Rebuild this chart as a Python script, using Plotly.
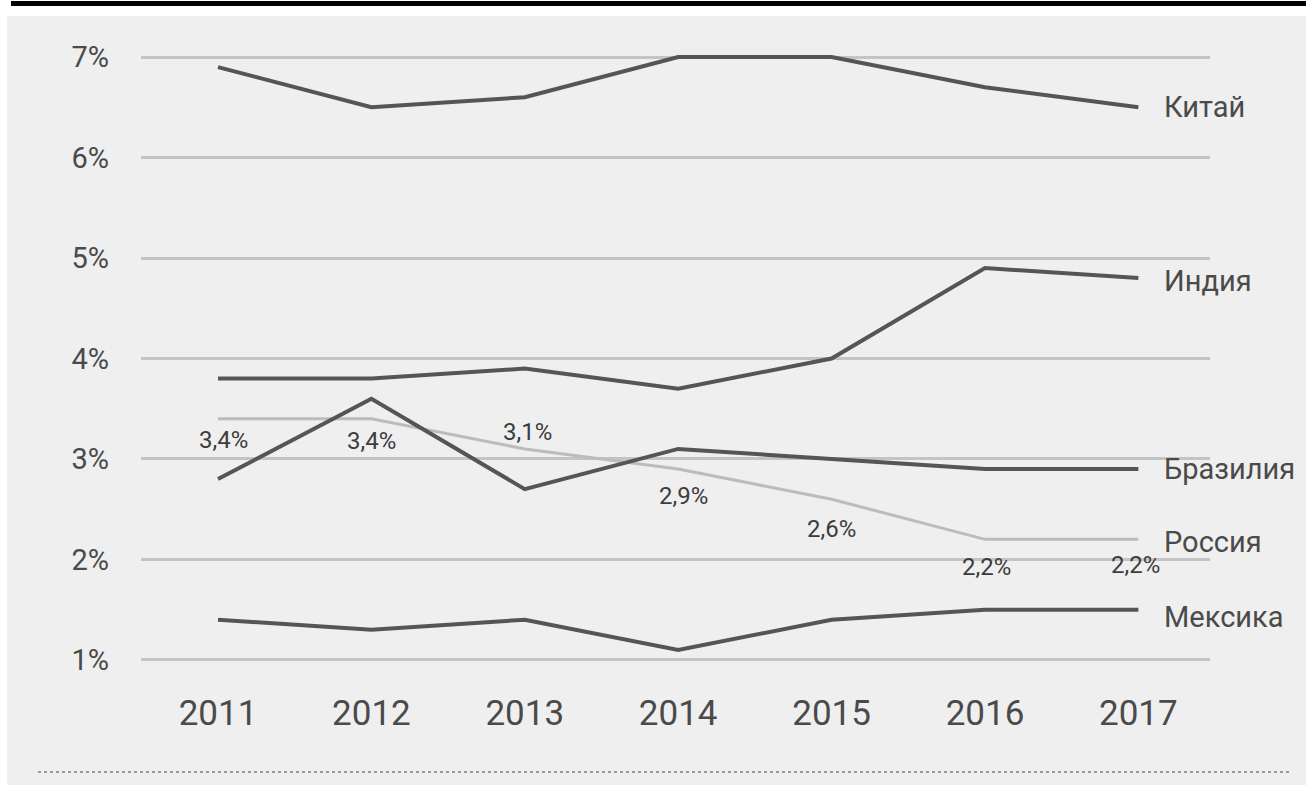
import plotly.graph_objects as go

years = [2011, 2012, 2013, 2014, 2015, 2016, 2017]
china = [6.9, 6.5, 6.6, 7.0, 7.0, 6.7, 6.5]
india = [3.8, 3.8, 3.9, 3.7, 4.0, 4.9, 4.8]
brazil = [2.8, 3.6, 2.7, 3.1, 3.0, 2.9, 2.9]
russia = [3.4, 3.4, 3.1, 2.9, 2.6, 2.2, 2.2]
mexico = [1.4, 1.3, 1.4, 1.1, 1.4, 1.5, 1.5]
russia_labels = ["3,4%", "3,4%", "3,1%", "2,9%", "2,6%", "2,2%", "2,2%"]
names = ["Китай", "Индия", "Бразилия", "Россия", "Мексика"]
y_ticks = [1, 2, 3, 4, 5, 6, 7]
y_ticktext = ["1%", "2%", "3%", "4%", "5%", "6%", "7%"]

W, H = 1306, 785
FONT = "Roboto"
TXT = "#4a4a4a"
DARK = "#555555"
LIGHT = "#bcbcbc"

fig = go.Figure()

# Russia first (under dark lines)
fig.add_trace(go.Scatter(x=years, y=russia, mode="lines",
                         line=dict(color=LIGHT, width=3), hoverinfo="skip"))
for series in [china, india, brazil, mexico]:
    fig.add_trace(go.Scatter(x=years, y=series, mode="lines",
                             line=dict(color=DARK, width=4), hoverinfo="skip"))

# Russia value labels (style offsets)
lab_dx = [5, 0, 3, 5, 0, 2, -3]
lab_dy = [-21, -22, 17, -27, -30, -28, -26]
for x, y, t, dx, dy in zip(years, russia, russia_labels, lab_dx, lab_dy):
    fig.add_annotation(x=x, y=y, text=t, showarrow=False, xshift=dx, yshift=dy,
                       font=dict(family=FONT, size=24, color="#3c3c3c"))

# Series names at right
series_all = [china, india, brazil, russia, mexico]
name_dy = [0, -3, 0, -3, -7]
for nm, s, dy in zip(names, series_all, name_dy):
    fig.add_annotation(x=years[-1], y=s[-1], text=nm, showarrow=False,
                       xanchor="left", xshift=24, yshift=dy,
                       font=dict(family=FONT, size=29, color=TXT))

shapes = [
    # grey panel
    dict(type="rect", xref="paper", yref="paper", x0=7 / W, x1=1.0,
         y0=0, y1=1 - 16 / H, fillcolor="#efefef", line=dict(width=0), layer="below"),
    # top black rule
    dict(type="rect", xref="paper", yref="paper", x0=11 / W, x1=1.0,
         y0=1 - 6 / H, y1=1 - 1 / H, fillcolor="#000000", line=dict(width=0), layer="below"),
    # dotted bottom line
    dict(type="line", xref="paper", yref="paper", x0=38 / W, x1=1290 / W,
         y0=1 - 772 / H, y1=1 - 772 / H, line=dict(color="#9a9a9a", width=2, dash="dot"),
         layer="below"),
]

fig.update_layout(
    width=W, height=H,
    margin=dict(l=0, r=0, t=0, b=0, pad=0, autoexpand=False),
    paper_bgcolor="#ffffff",
    plot_bgcolor="rgba(0,0,0,0)",
    showlegend=False,
    shapes=shapes,
    xaxis=dict(domain=[141 / W, 1210 / W], range=[2010.498, 2017.467],
               tickvals=years, ticktext=[str(y) for y in years],
               showgrid=False, zeroline=False, showline=False, ticks="",
               ticklabelstandoff=19, automargin=False,
               tickfont=dict(family=FONT, size=35, color=TXT), fixedrange=True),
    yaxis=dict(domain=[1 - 670 / H, 1 - 47 / H], range=[0.9, 7.1],
               tickvals=y_ticks, ticktext=y_ticktext,
               showgrid=True, gridcolor="#c4c4c4", gridwidth=3,
               zeroline=False, showline=False, ticks="",
               ticklabelstandoff=31, automargin=False,
               tickfont=dict(family=FONT, size=29, color=TXT), fixedrange=True),
)

fig.write_html("out.html")
